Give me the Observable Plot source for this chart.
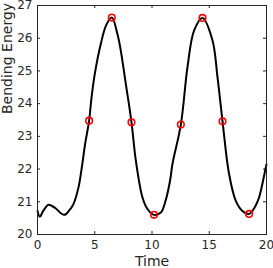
<!DOCTYPE html>
<html>
<head>
<meta charset="utf-8">
<script src="https://cdn.jsdelivr.net/npm/d3@7"></script>
<script src="https://cdn.jsdelivr.net/npm/@observablehq/plot@0.6"></script>
<style>
  html, body { margin: 0; padding: 0; background: white; }
</style>
</head>
<body>
<div id="chart"></div>
<script>
const curveTime = [0, 0.2, 0.5, 0.96, 1.5, 2.33, 2.8, 3.14, 3.58, 3.87, 4.16, 4.51, 4.69, 5.0, 5.53, 6.0, 6.49, 7.0, 7.27, 7.71, 8.21, 8.59, 9.17, 9.6, 10.18, 10.77, 11.2, 11.58, 11.79, 12.52, 13.1, 13.68, 14.41, 15.28, 15.72, 16.16, 16.73, 17.32, 17.9, 18.48, 19.0, 19.35, 19.88, 20];
const curveEnergy = [20.73, 20.54, 20.72, 20.91, 20.82, 20.6, 20.75, 20.93, 21.44, 22.05, 22.77, 23.48, 24.1, 24.9, 25.83, 26.4, 26.63, 26.1, 25.63, 24.61, 23.43, 22.26, 21.13, 20.78, 20.6, 20.67, 21.05, 21.65, 22.16, 23.36, 25.12, 26.24, 26.62, 25.94, 24.81, 23.46, 21.85, 21.03, 20.72, 20.63, 20.85, 21.13, 21.95, 22.15];
const markerTime = [4.51, 6.49, 8.21, 10.18, 12.52, 14.41, 16.16, 18.48];
const markerEnergy = [23.48, 26.63, 23.43, 20.60, 23.36, 26.62, 23.46, 20.63];
const xTicks = [0, 5, 10, 15, 20];
const yTicks = [20, 21, 22, 23, 24, 25, 26, 27];
const xLabel = "Time";
const yLabel = "Bending Energy";

const curve = curveTime.map((t, i) => ({t, e: curveEnergy[i]}));
const markers = markerTime.map((t, i) => ({t, e: markerEnergy[i]}));

const W = 273, H = 268;
const mL = 37, mR = 7, mT = 5, mB = 34;
const iw = W - mL - mR, ih = H - mT - mB;
const ink = "#262626";

const chart = Plot.plot({
  width: W,
  height: H,
  marginLeft: mL,
  marginRight: mR,
  marginTop: mT,
  marginBottom: mB,
  style: {fontFamily: "DejaVu Sans", fontSize: "12px", color: ink, background: "white", overflow: "visible"},
  x: {domain: [0, 20]},
  y: {domain: [20, 27]},
  marks: [
    Plot.axisX({ticks: xTicks, tickSize: 0, tickPadding: 6, fontSize: 12, tickFormat: d => String(d), label: null}),
    Plot.axisY({ticks: yTicks, tickSize: 0, tickPadding: 5, fontSize: 12, tickFormat: d => String(d), label: null}),
    Plot.text([xLabel], {frameAnchor: "bottom", dy: 22, lineAnchor: "top", fontSize: 14, fill: ink}),
    Plot.text([yLabel], {frameAnchor: "left", dx: -35, dy: -6, rotate: -90, lineAnchor: "top", fontSize: 14, fill: ink}),
    Plot.tickX(xTicks, {x: d => d, insetTop: ih - 3, stroke: ink, strokeWidth: 1}),
    Plot.tickX(xTicks, {x: d => d, insetBottom: ih - 3, stroke: ink, strokeWidth: 1}),
    Plot.tickY(yTicks, {y: d => d, insetRight: iw - 3, stroke: ink, strokeWidth: 1}),
    Plot.tickY(yTicks, {y: d => d, insetLeft: iw - 3, stroke: ink, strokeWidth: 1}),
    Plot.line(curve, {x: "t", y: "e", stroke: "black", strokeWidth: 2, curve: "catmull-rom"}),
    Plot.dot(markers, {x: "t", y: "e", r: 3.3, stroke: "#ff0000", strokeWidth: 1.6, fill: "none"}),
    Plot.frame({stroke: ink, strokeWidth: 1})
  ]
});
document.getElementById("chart").appendChild(chart);
</script>
</body>
</html>
